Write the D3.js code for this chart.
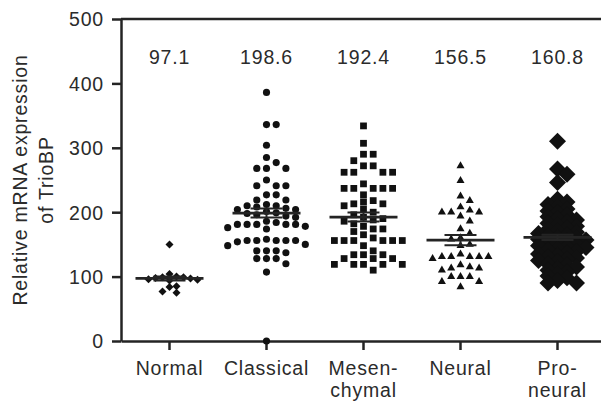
<!DOCTYPE html>
<html><head><meta charset="utf-8">
<script src="https://cdn.jsdelivr.net/npm/d3@7"></script>
<style>
body{margin:0;background:#fff}
text{font-family:"Liberation Sans",Arial,Helvetica,sans-serif;fill:#2b2b2b}
</style>
</head><body><svg id="c" width="601" height="401"></svg>
<script>
const categories = ["Normal","Classical","Mesenchymal","Neural","Proneural"];
const categoryLabels = [["Normal"],["Classical"],["Mesen-","chymal"],["Neural"],["Pro-","neural"]];
const meanValues = [97.1,198.6,192.4,156.5,160.8];
const meanLabels = ["97.1","198.6","192.4","156.5","160.8"];
const semValues = [3,7,7,8,4];
const yTicks = [0,100,200,300,400,500];

const normalValues = [150,104,100,99,99,98,97,96,95,94,85,84,77,75];
const classicalValues = [386,336,336,304,285,277,268,268,268,250,241,241,241,227,227,219,219,212,210,210,208,206,204,204,201,199,198,196,194,192,186,184,181,181,181,181,181,178,176,174,158,156,156,156,156,156,154,150,148,140,140,140,137,128,128,128,120,107,0];
const mesenchymalValues = [334,307,290,290,280,272,272,262,262,262,262,244,237,237,237,237,237,227,218,216,213,213,210,205,200,196,192,190,188,186,182,178,174,174,170,165,160,156,156,156,156,156,156,148,140,134,134,134,128,128,128,119,119,119,119,119,110];
const neuralValues = [272,249,225,218,208,203,200,200,200,194,186,174,167,160,158,150,148,135,131,131,131,131,131,128,118,115,113,113,110,100,100,100,92,92,84];
const proneuralValues = [310,267,259,246,220,216,212,208,205,202,199,196,193,190,188,185,183,180,178,175,173,171,169,167,165,163,161,160,158,157,155,153,152,150,148,146,145,143,141,139,137,135,133,131,129,127,125,123,120,118,115,113,110,107,104,101,98,94,90,90];
const groupValues = [normalValues,classicalValues,mesenchymalValues,neuralValues,proneuralValues];

const symbolStyle = [
  {type:d3.symbolSquare,size:32,rot:45,spacing:7,minDy:6},
  {type:d3.symbolCircle,size:40,rot:0,spacing:9.7,minDy:7},
  {type:d3.symbolSquare,size:46,rot:0,spacing:9.7,minDy:7},
  {type:d3.symbolTriangle,size:28,rot:0,spacing:9.3,minDy:7},
  {type:d3.symbolSquare,size:144,rot:45,spacing:9.5,minDy:5.5}
];

const svg = d3.select("#c");
const x = d3.scaleBand().domain(categories).range([121,606]);
const y = d3.scaleLinear().domain([0,500]).range([341,19]);
const cx = c => x(c) + x.bandwidth()/2;
const ink = "#242424";

svg.append("line").attr("x1",121).attr("x2",601).attr("y1",y(500)).attr("y2",y(500))
  .attr("stroke",ink).attr("stroke-width",2.5);

const ya = svg.append("g").attr("transform","translate(121,0)")
  .call(d3.axisLeft(y).tickValues(yTicks).tickSize(9).tickSizeOuter(0).tickPadding(8));
ya.select(".domain").attr("stroke",ink).attr("stroke-width",2.5);
ya.selectAll(".tick line").attr("stroke",ink).attr("stroke-width",2.5);
ya.selectAll(".tick text").attr("font-size",19.5).attr("letter-spacing",0.8)
  .attr("font-family","Liberation Sans, Arial, sans-serif").attr("fill","#2b2b2b").attr("dy","0.35em");

const xa = svg.append("g").attr("transform",`translate(0,${y(0)})`)
  .call(d3.axisBottom(x).tickSize(9).tickSizeOuter(0).tickFormat(""));
xa.select(".domain").attr("stroke",ink).attr("stroke-width",2.5);
xa.selectAll(".tick line").attr("stroke",ink).attr("stroke-width",2.5);
xa.selectAll(".tick text").remove();

categories.forEach((c,i)=>{
  const t = svg.append("text").attr("x",cx(c)).attr("y",375).attr("text-anchor","middle")
    .attr("font-size",19.5).attr("letter-spacing",0.8);
  categoryLabels[i].forEach((ln,j)=>{
    t.append("tspan").attr("x",cx(c)).attr("dy", j===0?0:22).text(ln);
  });
});

[["Relative mRNA expression",26.5],["of TrioBP",53]].forEach(([s,px])=>{
  svg.append("text").attr("transform",`translate(${px},180) rotate(-90)`)
    .attr("text-anchor","middle").attr("font-size",19.5).attr("letter-spacing",0.8).text(s);
});

// beeswarm layout computed from the values
function swarm(values, st){
  const pts = values.map(v=>({v, py:y(v)})).sort((a,b)=>b.v-a.v);
  const placed = [];
  pts.forEach(p=>{
    for(let k=0;k<60;k++){
      const m = Math.ceil(k/2), dx = (k%2===1? m : -m)*st.spacing;
      const hit = placed.some(q=>Math.abs(q.py-p.py)<st.minDy && Math.abs(q.dx-dx)<st.spacing*0.99);
      if(!hit){ p.dx = dx; placed.push(p); break; }
    }
  });
  return placed;
}

categories.forEach((c,i)=>{
  const st = symbolStyle[i];
  const pts = swarm(groupValues[i], st);
  const sym = d3.symbol().type(st.type).size(st.size);
  svg.append("g").selectAll("path").data(pts).join("path")
    .attr("d",sym)
    .attr("transform",d=>`translate(${cx(c)+d.dx},${d.py}) rotate(${st.rot})`)
    .attr("fill","#111");
});

categories.forEach((c,i)=>{
  const m = meanValues[i], s = semValues[i], X = cx(c);
  const g = svg.append("g").attr("stroke",ink);
  g.append("line").attr("x1",X-34).attr("x2",X+34).attr("y1",y(m)).attr("y2",y(m)).attr("stroke-width",2.8);
  g.append("line").attr("x1",X).attr("x2",X).attr("y1",y(m-s)).attr("y2",y(m+s)).attr("stroke-width",2);
  [m-s,m+s].forEach(v=>g.append("line").attr("x1",X-16).attr("x2",X+16).attr("y1",y(v)).attr("y2",y(v)).attr("stroke-width",2));
  svg.append("text").attr("x",X).attr("y",63.5).attr("text-anchor","middle")
    .attr("font-size",19.5).attr("letter-spacing",0.8).text(meanLabels[i]);
});
</script></body></html>
